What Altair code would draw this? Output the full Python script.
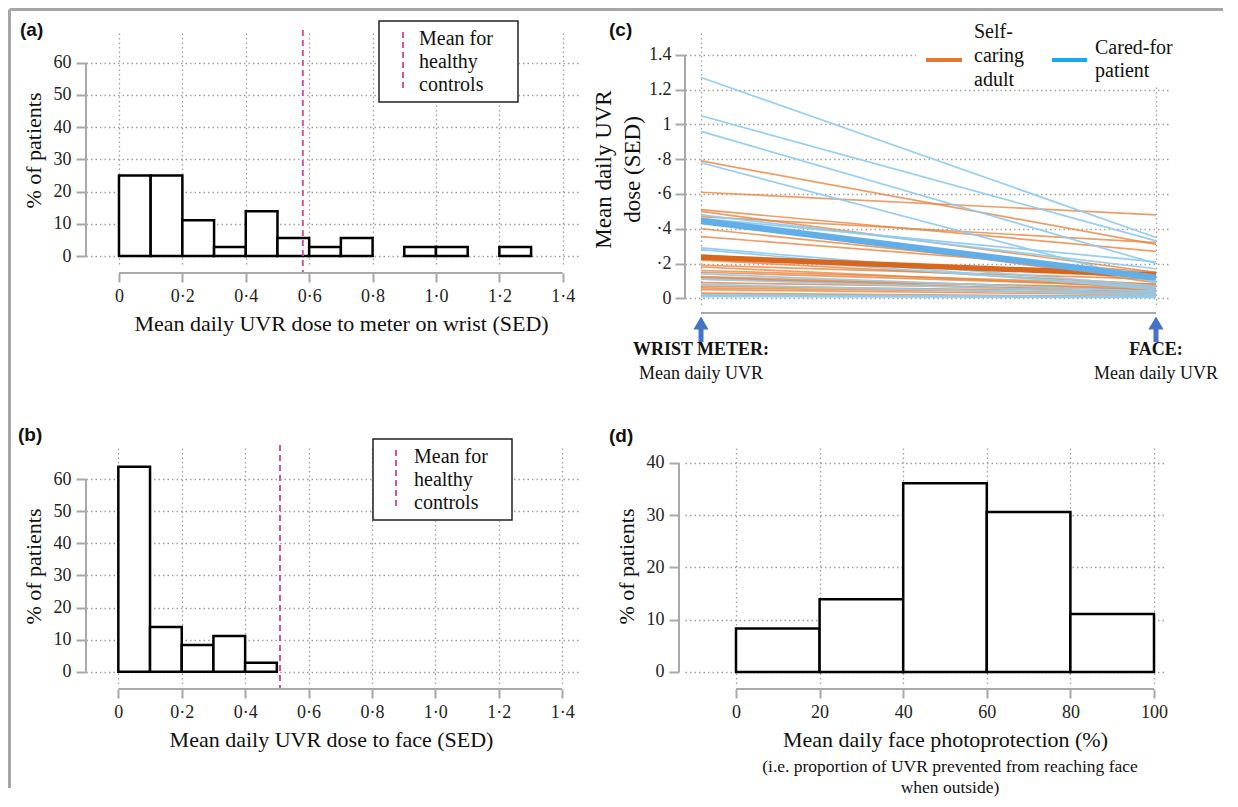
import altair as alt
import pandas as pd

SERIF = "Liberation Serif"
SANS = "Liberation Sans"
GRID_C = "#a0a0a0"
AXIS_C = "#a9a9a9"
PINK = "#d6519e"
ORANGE_THIN = "#e9853f"
ORANGE_MEAN = "#d8661c"
BLUE_THIN = "#8fcbef"
BLUE_MEAN = "#62aee9"
ORANGE_KEY = "#e8772e"
BLUE_KEY = "#19a9ee"
ARROW = "#4472c4"
FRAME = "#a6a6a6"

# ---------------- data ----------------
uvr_ticks = [0.0, 0.2, 0.4, 0.6, 0.8, 1.0, 1.2, 1.4]
pct_ticks = [0, 10, 20, 30, 40, 50, 60]

# (a) wrist meter histogram
a_bin_start = [0.0, 0.1, 0.2, 0.3, 0.4, 0.5, 0.6, 0.7, 0.8, 0.9, 1.0, 1.1, 1.2]
a_bin_end = [0.1, 0.2, 0.3, 0.4, 0.5, 0.6, 0.7, 0.8, 0.9, 1.0, 1.1, 1.2, 1.3]
a_pct = [25.0, 25.0, 11.1, 2.8, 13.9, 5.6, 2.8, 5.6, 0.0, 2.8, 2.8, 0.0, 2.8]
a_mean = [0.58]

# (b) face histogram
b_bin_start = [0.0, 0.1, 0.2, 0.3, 0.4]
b_bin_end = [0.1, 0.2, 0.3, 0.4, 0.5]
b_pct = [63.9, 13.9, 8.3, 11.1, 2.8]
b_mean = [0.51]

# (d) photoprotection histogram
d_bin_start = [0, 20, 40, 60, 80]
d_bin_end = [20, 40, 60, 80, 100]
d_pct = [8.3, 13.9, 36.1, 30.6, 11.1]
d_xticks = [0, 20, 40, 60, 80, 100]
d_yticks = [0, 10, 20, 30, 40]

# (c) wrist vs face per patient
c_ticks = [0.0, 0.2, 0.4, 0.6, 0.8, 1.0, 1.2, 1.4]
c_positions = [0, 1]
c_pos_bold = ["WRIST METER:", "FACE:"]
c_pos_sub = ["Mean daily UVR", "Mean daily UVR"]
orange_wrist = [0.79, 0.61, 0.51, 0.50, 0.47, 0.45, 0.40, 0.355, 0.22, 0.19, 0.18,
                0.16, 0.15, 0.125, 0.12, 0.11, 0.09, 0.07, 0.06, 0.05, 0.03, 0.02]
orange_face = [0.31, 0.48, 0.27, 0.15, 0.32, 0.09, 0.13, 0.15, 0.08, 0.11, 0.06,
               0.08, 0.07, 0.05, 0.03, 0.06, 0.05, 0.04, 0.03, 0.02, 0.01, 0.01]
blue_wrist = [1.27, 1.05, 0.96, 0.78, 0.48, 0.46, 0.29, 0.28, 0.25, 0.14, 0.11, 0.08, 0.02, 0.01]
blue_face = [0.35, 0.33, 0.20, 0.09, 0.17, 0.21, 0.07, 0.05, 0.06, 0.04, 0.03, 0.02, 0.01, 0.005]
orange_mean = [0.236, 0.134]
blue_mean = [0.445, 0.118]
c_group_lines = [["Self-", "caring", "adult"], ["Cared-for", "patient"]]

legend_hist = ["Mean for", "healthy", "controls"]
d_subtitle = ["(i.e. proportion of UVR prevented from reaching face", "when outside)"]

dot_expr = "datum.value == 0 ? '0' : replace(format(datum.value, '.1f'), '.', '\u00b7')"
c_expr = ("datum.value == 0 ? '0' : datum.value < 0.99 ? '\u00b7' + format(datum.value * 10, 'd') : "
          "datum.value < 1.01 ? '1' : format(datum.value, '.1f')")

GRID = dict(grid=True, gridDash=[1.5, 3], gridColor=GRID_C, gridWidth=1.3)
LAB = dict(labelFont=SERIF, labelFontSize=18, labelColor="#222", labelOverlap=False, labelBound=False,
           labelFlush=False)
TIT = dict(titleFont=SERIF, titleFontSize=22, titleFontWeight="normal", titleColor="#111")


def one(**kw):
    return pd.DataFrame({k: [v] for k, v in kw.items()})


def text_lines(lines, x, y_first, lh, size=20, align="left", weight="normal", font=SERIF):
    out = []
    for i, line in enumerate(lines):
        out.append(alt.Chart(one(t=line)).mark_text(
            align=align, baseline="middle", font=font, fontSize=size, fontWeight=weight,
            color="#111").encode(text="t:N", x=alt.value(x), y=alt.value(y_first + i * lh)))
    return out


def letter_mark(letter, x, y):
    return text_lines([letter], x, y, 0, size=19, weight="bold", font=SANS)[0]


def hist_panel(starts, ends, pcts, mean, W, H, xdom, ydom, xticks, yticks, xexpr, xtitle,
               title_x, x_offset, y_offset, ytitle="% of patients"):
    df = pd.DataFrame({"start": starts, "end": ends, "pct": pcts})
    df = df[df["pct"] > 0]
    xax = dict(values=xticks, tickCount=len(xticks), domain=False, tickColor=AXIS_C, tickWidth=2,
               tickSize=9, labelPadding=5, offset=x_offset, title=xtitle, titlePadding=8,
               titleX=title_x, **GRID, **LAB, **TIT)
    if xexpr:
        xax["labelExpr"] = xexpr
    x = alt.X("start:Q", scale=alt.Scale(domain=xdom, nice=False, zero=False), axis=alt.Axis(**xax))
    y = alt.Y("pct:Q", scale=alt.Scale(domain=ydom, nice=False, zero=False),
              axis=alt.Axis(values=yticks, tickCount=len(yticks), format="d", domain=False,
                            tickColor=AXIS_C, tickWidth=2, tickSize=10, labelPadding=5,
                            offset=y_offset, title=ytitle, titlePadding=8,
                            **GRID, **LAB, **TIT))
    bars = alt.Chart(df).mark_rect(fill="white", stroke="black", strokeWidth=2.5).encode(
        x=x, x2="end:Q", y=y, y2=alt.datum(0))
    layers = [bars]
    yline = alt.Chart(one(lo=yticks[0], hi=yticks[-1])).mark_rule(color=AXIS_C, strokeWidth=2).encode(
        x=alt.value(-y_offset), y="lo:Q", y2="hi:Q")
    xline = alt.Chart(one(lo=xticks[0], hi=xticks[-1])).mark_rule(color=AXIS_C, strokeWidth=2).encode(
        x="lo:Q", x2="hi:Q", y=alt.value(H + x_offset))
    layers += [yline, xline]
    if mean is not None:
        rule = alt.Chart(pd.DataFrame({"m": mean})).mark_rule(
            color=PINK, strokeDash=[6, 4], strokeWidth=2).encode(
            x="m:Q", y=alt.value(-3), y2=alt.value(H + x_offset))
        layers.insert(1, rule)
    return layers


def hist_legend(bx0, bx1, by0, by1, dx, dy0, dy1, tx, ty_first):
    leg = one(t=" ".join(legend_hist))
    box = alt.Chart(leg).mark_rect(fill="white", stroke="#222", strokeWidth=1.5).encode(
        x=alt.value(bx0), x2=alt.value(bx1), y=alt.value(by0), y2=alt.value(by1))
    dash = alt.Chart(leg).mark_rule(color=PINK, strokeDash=[6, 4], strokeWidth=2).encode(
        x=alt.value(dx), y=alt.value(dy0), y2=alt.value(dy1))
    return [box, dash] + text_lines(legend_hist, tx, ty_first, 23)


# ---------------- panel (a) ----------------
AW, AH = 492, 234
a_layers = hist_panel(a_bin_start, a_bin_end, a_pct, a_mean, AW, AH, [-0.104, 1.448], [-3.41, 69.2],
                      uvr_ticks, pct_ticks, dot_expr, "Mean daily UVR dose to meter on wrist (SED)",
                      255, 6, 0)
a_layers += hist_legend(293, 432, -12, 69, 317, -1, 57, 333, 6)
a_layers.append(letter_mark("(a)", -66, -3))
frame = one(a=0)
a_layers.append(alt.Chart(frame).mark_rule(color=FRAME, strokeWidth=3).encode(
    x=alt.value(-76.5), x2=alt.value(1137), y=alt.value(-23.5)))
a_layers.append(alt.Chart(frame).mark_rule(color=FRAME, strokeWidth=3).encode(
    x=alt.value(-76.5), y=alt.value(-23.5), y2=alt.value(755)))

# ---------------- panel (b) ----------------
BW, BH = 492, 236
b_layers = hist_panel(b_bin_start, b_bin_end, b_pct, b_mean, BW, BH, [-0.102, 1.450], [-3.84, 69.75],
                      uvr_ticks, pct_ticks, dot_expr, "Mean daily UVR dose to face (SED)",
                      245, 5, 0)
b_layers += hist_legend(287, 426, -9, 72, 310, 2, 60, 328, 9)
b_layers.append(letter_mark("(b)", -68, -13))
panel_b = alt.layer(*b_layers).properties(width=BW, height=BH)

# ---------------- panel (d) ----------------
DW, DH = 481, 236
d_layers = hist_panel(d_bin_start, d_bin_end, d_pct, None, DW, DH, [-12.2, 102.87], [-2.3, 42.87],
                      d_xticks, d_yticks, None, "Mean daily face photoprotection (%)",
                      260, 5, 6)
d_layers += text_lines(d_subtitle, 265, 319, 21, size=17.5, align="center")
d_layers.append(letter_mark("(d)", -76, -12))
panel_d = alt.layer(*d_layers).properties(width=DW, height=DH)

# ---------------- panel (c) ----------------
CW, CH = 485, 272
cx_scale = alt.Scale(domain=[-0.0352, 1.0308], nice=False, zero=False)
cy_scale = alt.Scale(domain=[-0.0385, 1.526], nice=False, zero=False)
cx_axis = alt.Axis(values=c_positions, tickCount=len(c_positions), labels=False, ticks=False,
                   domain=False, title=None, **GRID)
cy_axis = alt.Axis(values=c_ticks, tickCount=len(c_ticks), labelExpr=c_expr, domain=False,
                   tickColor=AXIS_C, tickWidth=2, tickSize=10, labelPadding=4,
                   title=["Mean daily UVR", "dose (SED)"],
                   titleLineHeight=29, titlePadding=4, **GRID, **LAB,
                   titleFont=SERIF, titleFontSize=23, titleFontWeight="normal", titleColor="#111")


def long_lines(wr, fa, prefix):
    rows = []
    for i, (w, f) in enumerate(zip(wr, fa)):
        rows.append({"id": f"{prefix}{i}", "pos": c_positions[0], "v": w})
        rows.append({"id": f"{prefix}{i}", "pos": c_positions[1], "v": f})
    return pd.DataFrame(rows)


orange_df = long_lines(orange_wrist, orange_face, "o")
blue_df = long_lines(blue_wrist, blue_face, "b")
om_df = long_lines([orange_mean[0]], [orange_mean[1]], "om")
bm_df = long_lines([blue_mean[0]], [blue_mean[1]], "bm")

c_orange = alt.Chart(orange_df).mark_line(color=ORANGE_THIN, strokeWidth=1.7, opacity=0.8).encode(
    x=alt.X("pos:Q", scale=cx_scale, axis=cx_axis), y=alt.Y("v:Q", scale=cy_scale, axis=cy_axis),
    detail="id:N")
c_blue = alt.Chart(blue_df).mark_line(color=BLUE_THIN, strokeWidth=1.7, opacity=0.95).encode(
    x="pos:Q", y="v:Q", detail="id:N")
c_om = alt.Chart(om_df).mark_line(color=ORANGE_MEAN, strokeWidth=5.5).encode(x="pos:Q", y="v:Q")
c_bm = alt.Chart(bm_df).mark_line(color=BLUE_MEAN, strokeWidth=6.5).encode(x="pos:Q", y="v:Q")

c_yline = alt.Chart(one(lo=c_ticks[0], hi=c_ticks[-1])).mark_rule(color=AXIS_C, strokeWidth=2).encode(
    x=alt.value(0), y="lo:Q", y2="hi:Q")
c_xline = alt.Chart(one(lo=c_positions[0], hi=c_positions[-1])).mark_rule(color=AXIS_C, strokeWidth=2).encode(
    x="lo:Q", x2="hi:Q", y=alt.value(280))

pos_df = pd.DataFrame({"pos": c_positions, "bold": c_pos_bold, "sub": c_pos_sub})
c_shaft = alt.Chart(pos_df).mark_rule(color=ARROW, strokeWidth=5).encode(
    x="pos:Q", y=alt.value(293), y2=alt.value(309))
c_head = alt.Chart(pos_df).mark_point(shape="triangle-up", filled=True, size=230, color=ARROW,
                                      opacity=1).encode(x="pos:Q", y=alt.value(290))
c_bold = alt.Chart(pos_df).mark_text(font=SERIF, fontWeight="bold", fontSize=18, baseline="middle",
                                     color="#111").encode(x="pos:Q", y=alt.value(317), text="bold:N")
c_sub = alt.Chart(pos_df).mark_text(font=SERIF, fontSize=18, baseline="middle", color="#111").encode(
    x="pos:Q", y=alt.value(341), text="sub:N")

c_leg_bg = alt.Chart(one(a=0)).mark_rect(fill="white").encode(
    x=alt.value(231), x2=alt.value(492), y=alt.value(-17), y2=alt.value(52))
c_key_o = alt.Chart(one(t=" ".join(c_group_lines[0]))).mark_rule(color=ORANGE_KEY, strokeWidth=4).encode(
    x=alt.value(241), x2=alt.value(277), y=alt.value(27))
c_key_b = alt.Chart(one(t=" ".join(c_group_lines[1]))).mark_rule(color=BLUE_KEY, strokeWidth=4).encode(
    x=alt.value(367), x2=alt.value(402), y=alt.value(27))

c_layers = [c_orange, c_blue, c_om, c_bm, c_yline, c_xline, c_shaft, c_head, c_bold, c_sub,
            c_leg_bg, c_key_o, c_key_b]
c_layers += text_lines(c_group_lines[0], 289, -1, 24)
c_layers += text_lines(c_group_lines[1], 410, 15, 23)
c_layers.append(letter_mark("(c)", -76, -3))
panel_c = alt.layer(*c_layers).properties(width=CW, height=CH)

panel_a = alt.layer(*a_layers).properties(width=AW, height=AH)

chart = alt.concat(panel_a, panel_c, panel_b, panel_d, columns=2,
                   spacing={"row": 143, "column": 107}, bounds="flush").properties(
    padding=0, background="white").configure_view(stroke=None)

chart.save("out.html", embed_options={"renderer": "svg", "actions": False})
